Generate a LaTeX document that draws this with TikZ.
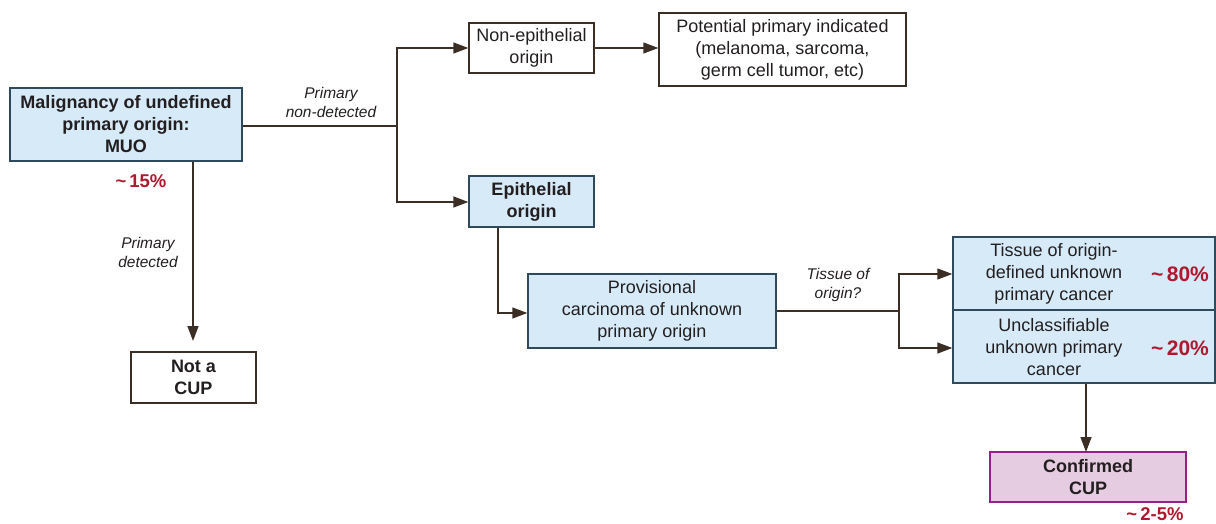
\documentclass[tikz,border=0pt]{standalone}
\usepackage{fontspec}
\setmainfont{Liberation Sans}
\usetikzlibrary{arrows.meta}
\definecolor{boxblue}{HTML}{D6EAF8}
\definecolor{bordblue}{HTML}{2E4A5C}
\definecolor{linecol}{HTML}{3A2E25}
\definecolor{txtcol}{HTML}{231F20}
\definecolor{pctred}{HTML}{B0182E}
\definecolor{cuppink}{HTML}{E5CCE0}
\definecolor{cupborder}{HTML}{9A1E8C}
\tikzset{
  base/.style={draw, line width=1.4pt, align=center, inner sep=0pt, text=txtcol,
    font=\fontsize{18}{22}\selectfont},
  bluebox/.style={base, fill=boxblue, draw=bordblue},
  whitebox/.style={base, fill=white, draw=linecol},
  cupbox/.style={base, fill=cuppink, draw=cupborder, line width=1.8pt},
  boldtxt/.style={font=\fontsize{18}{22}\selectfont\bfseries},
  conn/.style={draw=linecol, line width=1.4pt},
  arr/.style={conn, -{Triangle[length=15pt,width=11pt]}},
  lbl/.style={text=txtcol, align=center, font=\fontsize{15.5}{19}\selectfont\itshape},
  pct/.style={text=pctred, font=\fontsize{21}{24}\selectfont\bfseries},
  pcts/.style={text=pctred, font=\fontsize{18.5}{22}\selectfont\bfseries},
  txt/.style={text=txtcol, align=center, font=\fontsize{18}{22}\selectfont},
}
\begin{document}
\begin{tikzpicture}[x=1pt,y=-1pt]
\useasboundingbox (0,0) rectangle (1216,524);
% boxes
\node[bluebox, boldtxt, minimum width=232pt, minimum height=73pt] (muo) at (126,124.5) {Malignancy of undefined\\primary origin:\\MUO};
\node[whitebox, minimum width=125pt, minimum height=50pt] (nonepi) at (531.5,48) {Non-epithelial\\origin};
\node[whitebox, minimum width=247pt, minimum height=73pt] (pot) at (782.5,49.5) {Potential primary indicated\\(melanoma, sarcoma,\\germ cell tumor, etc)};
\node[bluebox, boldtxt, minimum width=125pt, minimum height=51pt] (epi) at (531.5,201.5) {Epithelial\\origin};
\node[bluebox, minimum width=248pt, minimum height=74pt] (prov) at (652,311) {Provisional\\carcinoma of unknown\\primary origin};
\node[bluebox, minimum width=262pt, minimum height=73pt] (tis) at (1084,273.5) {};
\node[bluebox, minimum width=262pt, minimum height=73pt] (unc) at (1084,346.5) {};
\node[whitebox, boldtxt, minimum width=125pt, minimum height=51pt] (notcup) at (193.5,377.5) {Not a\\CUP};
\node[cupbox, boldtxt, minimum width=196pt, minimum height=50pt] (conf) at (1088,477) {Confirmed\\CUP};
% box inner texts
\node[txt] (tistxt) at (1054,273.5) {Tissue of origin-\\defined unknown\\primary cancer};
\node[pct] (p80) at (1180,274) {\char`~\,80\%};
\node[txt] (unctxt) at (1054,347) {Unclassifiable\\unknown primary\\cancer};
\node[pct] (p20) at (1180,348) {\char`~\,20\%};
% percentages outside
\node[pcts] (p15) at (141,181) {\char`~\,15\%};
\node[pcts] (p25) at (1155,514) {\char`~\,2-5\%};
% labels
\node[lbl] (lnd) at (331,102) {Primary\\non-detected};
\node[lbl] (ld) at (148,252) {Primary\\detected};
\node[lbl] (lto) at (838,285) {Tissue of\\origin?};
% connectors
\coordinate (j1) at (397,126);
\coordinate (j1t) at (397,48);
\coordinate (j1b) at (397,202);
\draw[conn] (muo.east |- j1) -- (j1);
\draw[arr] (j1) -- (j1t) -- (nonepi.west |- j1t);
\draw[arr] (j1) -- (j1b) -- (epi.west |- j1b);
\draw[arr] (nonepi.east) -- (pot.west |- nonepi.east);
\coordinate (dtip) at (193,341);
\draw[arr] (muo.south -| dtip) -- (dtip);
\coordinate (e1) at (498,313);
\draw[arr] (epi.south -| e1) -- (e1) -- (prov.west |- e1);
\coordinate (j2) at (899,311);
\coordinate (j2t) at (899,274);
\coordinate (j2b) at (899,348);
\draw[conn] (prov.east) -- (j2);
\draw[arr] (j2) -- (j2t) -- (tis.west |- j2t);
\draw[arr] (j2) -- (j2b) -- (unc.west |- j2b);
\coordinate (ctip) at (1086,452);
\draw[arr] (unc.south -| ctip) -- (ctip);
\end{tikzpicture}
\end{document}
